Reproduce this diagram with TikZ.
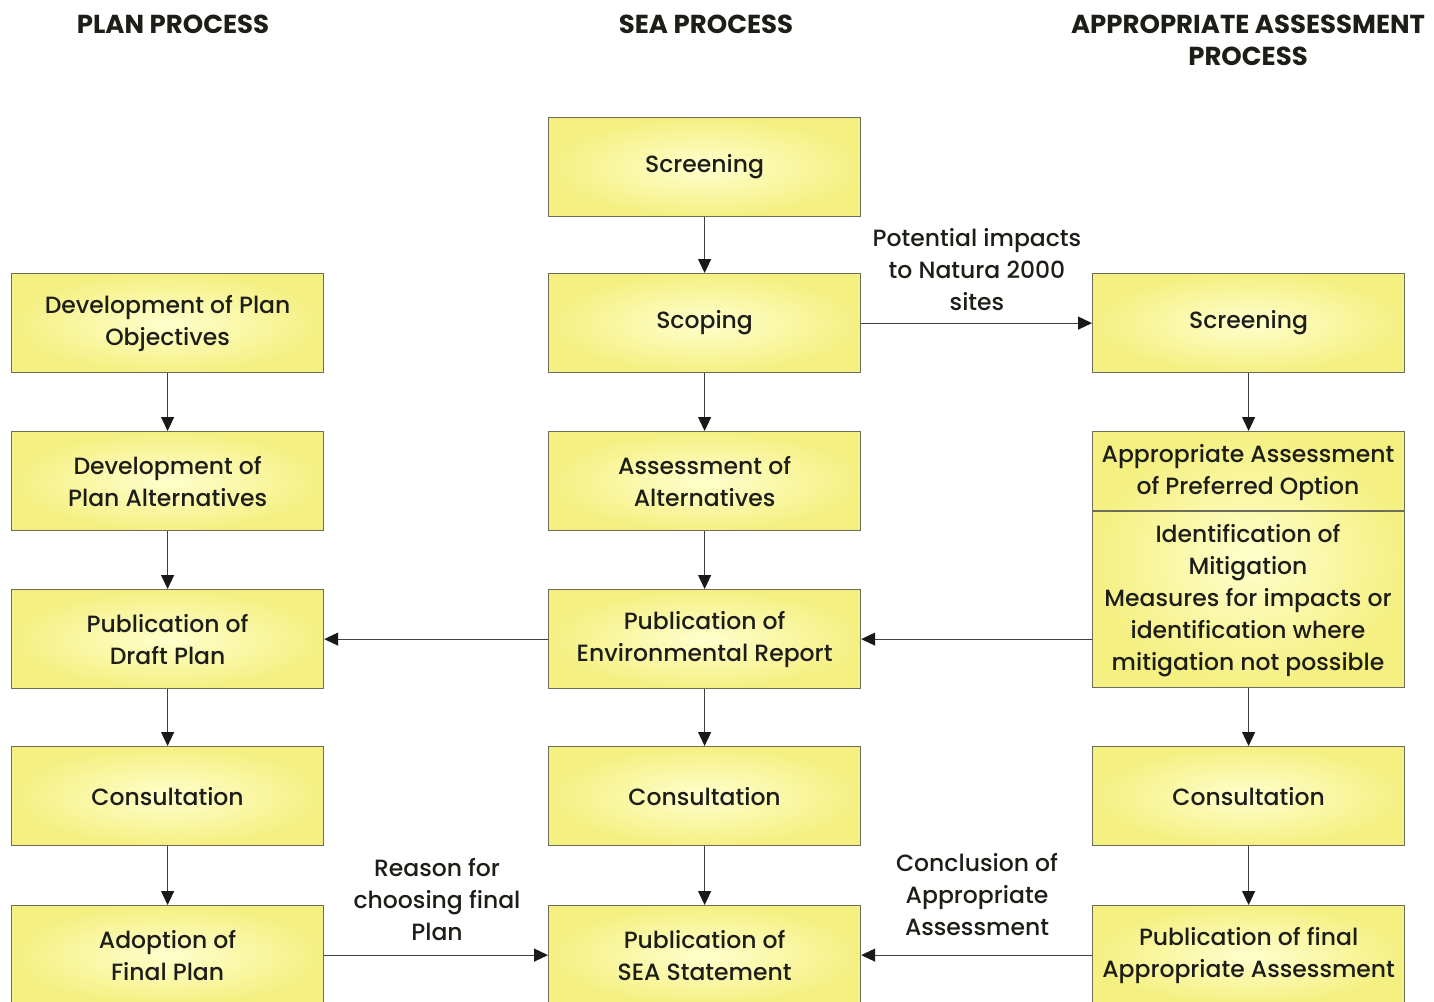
\documentclass[tikz,border=0pt]{standalone}
\usepackage{fontspec}
\setmainfont{Poppins}[UprightFont=* Medium, BoldFont=* Bold]
\usetikzlibrary{arrows.meta}
\definecolor{boxedge}{RGB}{110,108,90}
\definecolor{boxin}{RGB}{255,255,205}
\definecolor{boxout}{RGB}{245,240,130}
\definecolor{txt}{RGB}{30,30,25}
\tikzset{
  stepbox/.style={draw=boxedge, line width=1.2pt, inner color=boxin, outer color=boxout,
    minimum width=312pt, minimum height=99pt, inner sep=0pt, align=center,
    text=txt, font=\fontsize{23.5}{32}\selectfont, anchor=north west},
  head/.style={font=\bfseries\fontsize{26}{32}\selectfont, text=txt, align=center},
  lbl/.style={font=\fontsize{23.5}{32}\selectfont, text=txt, align=center},
  flow/.style={draw=black!75, line width=1.1pt, -{Triangle[length=14pt,width=13pt,color=black!90]}},
}
\begin{document}
\begin{tikzpicture}[x=1pt,y=-1pt]
\useasboundingbox (0,0) rectangle (1434,1001);
\begin{scope}
\clip (0,0) rectangle (1434,1001);
% headers
\node[head] (h1) at (173,40) {PLAN PROCESS\\[0pt]\phantom{P}};
\node[head] (h2) at (706,40) {SEA PROCESS\\[0pt]\phantom{P}};
\node[head] (h3) at (1248,40) {APPROPRIATE ASSESSMENT\\PROCESS};
% column 1
\node[stepbox] (p1) at (11,273) {Development of Plan\\Objectives};
\node[stepbox] (p2) at (11,431) {Development of\\Plan Alternatives};
\node[stepbox] (p3) at (11,589) {Publication of\\Draft Plan};
\node[stepbox] (p4) at (11,746) {Consultation};
\node[stepbox] (p5) at (11,905) {Adoption of\\Final Plan};
% column 2
\node[stepbox] (s0) at (548,117) {Screening};
\node[stepbox] (s1) at (548,273) {Scoping};
\node[stepbox] (s2) at (548,431) {Assessment of\\Alternatives};
\node[stepbox] (s3) at (548,589) {Publication of\\Environmental Report};
\node[stepbox] (s4) at (548,746) {Consultation};
\node[stepbox] (s5) at (548,905) {Publication of\\SEA Statement};
% column 3
\node[stepbox] (a1) at (1092,273) {Screening};
\node[stepbox, minimum height=256pt] (a2) at (1092,431) {};
\draw[draw=boxedge, line width=1.2pt] (1092,511) coordinate (d1) -- (1405,511) coordinate (d2);
\node[lbl] (a2t) at (1248,473) {Appropriate Assessment\\of Preferred Option};
\node[lbl] (a2b) at (1248,601) {Identification of\\Mitigation\\Measures for impacts or\\identification where\\mitigation not possible};
\node[stepbox] (a4) at (1092,746) {Consultation};
\node[stepbox] (a5) at (1092,905) {Publication of final\\Appropriate Assessment};
% vertical arrows
\draw[flow] (p1) -- (p2);
\draw[flow] (p2) -- (p3);
\draw[flow] (p3) -- (p4);
\draw[flow] (p4) -- (p5);
\draw[flow] (s0) -- (s1);
\draw[flow] (s1) -- (s2);
\draw[flow] (s2) -- (s3);
\draw[flow] (s3) -- (s4);
\draw[flow] (s4) -- (s5);
\draw[flow] (a1) -- (a2);
\draw[flow] (a2) -- (a4);
\draw[flow] (a4) -- (a5);
% horizontal arrows
\draw[flow] (s1.east) -- (a1.west);
\draw[flow] (a2.west |- s3.east) -- (s3.east);
\draw[flow] (s3.west) -- (p3.east);
\draw[flow] (p5.east) -- (s5.west);
\draw[flow] (a5.west) -- (s5.east);
% labels
\node[lbl] (l1) at (977,270) {Potential impacts\\to Natura 2000\\sites};
\node[lbl] (l2) at (437,900) {Reason for\\choosing final\\Plan};
\node[lbl] (l3) at (977,895) {Conclusion of\\Appropriate\\Assessment};
\end{scope}
\end{tikzpicture}
\end{document}
